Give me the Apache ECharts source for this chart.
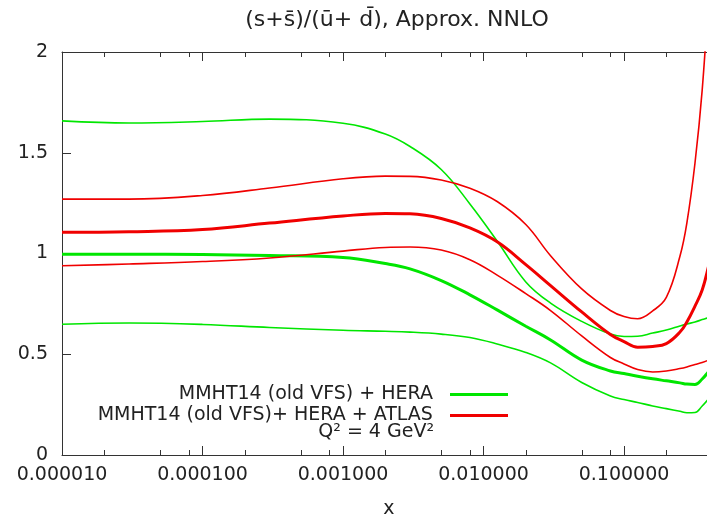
<!DOCTYPE html>
<html>
<head>
<meta charset="utf-8">
<script src="https://cdn.jsdelivr.net/npm/echarts@6/dist/echarts.min.js"></script>
<style>html,body{margin:0;padding:0;background:#fff}#c{width:707px;height:518px}</style>
</head>
<body>
<div id="c"></div>
<script>
// x sample points (log scale)
const xs = [1e-5, 3e-5, 1e-4, 3e-4, 1e-3, 2e-3, 3e-3, 5e-3, 8e-3, 0.0125, 0.02, 0.03, 0.05, 0.08, 0.1, 0.125, 0.16, 0.2, 0.25, 0.28, 0.32, 0.36, 0.4, 0.45];
// MMHT14 (old VFS) + HERA : central, upper, lower
const heraCentral = [0.996, 0.996, 0.995, 0.990, 0.980, 0.950, 0.924, 0.866, 0.795, 0.720, 0.639, 0.571, 0.471, 0.417, 0.404, 0.391, 0.378, 0.368, 0.358, 0.352, 0.350, 0.377, 0.414, 0.452];
const heraUpper   = [1.658, 1.648, 1.655, 1.667, 1.646, 1.593, 1.531, 1.417, 1.246, 1.062, 0.859, 0.754, 0.663, 0.600, 0.588, 0.589, 0.605, 0.620, 0.640, 0.650, 0.660, 0.672, 0.682, 0.695];
const heraLower   = [0.649, 0.655, 0.648, 0.633, 0.619, 0.614, 0.610, 0.600, 0.583, 0.551, 0.509, 0.457, 0.360, 0.293, 0.275, 0.261, 0.243, 0.230, 0.217, 0.210, 0.211, 0.243, 0.278, 0.318];
// MMHT14 (old VFS) + HERA + ATLAS : central, upper, lower
const atlasCentral = [1.105, 1.108, 1.119, 1.151, 1.186, 1.199, 1.197, 1.174, 1.127, 1.058, 0.945, 0.841, 0.710, 0.598, 0.563, 0.535, 0.539, 0.553, 0.610, 0.660, 0.739, 0.819, 0.938, 1.092];
const atlasUpper   = [1.270, 1.270, 1.288, 1.325, 1.371, 1.384, 1.383, 1.365, 1.324, 1.258, 1.144, 0.989, 0.824, 0.717, 0.687, 0.676, 0.715, 0.782, 0.986, 1.151, 1.449, 1.811, 2.283, 2.854];
const atlasLower   = [0.939, 0.948, 0.960, 0.978, 1.012, 1.030, 1.032, 1.017, 0.969, 0.893, 0.801, 0.717, 0.591, 0.484, 0.452, 0.424, 0.412, 0.417, 0.429, 0.437, 0.449, 0.459, 0.471, 0.486];
// minor tick positions on x axis
const minorTicks = [2e-5, 5e-5, 8e-5, 2e-4, 5e-4, 8e-4, 2e-3, 5e-3, 8e-3, 2e-2, 5e-2, 8e-2, 0.2];
const yTicks = [0, 0.5, 1, 1.5, 2];

const nameHera = 'MMHT14 (old VFS) + HERA';
const nameAtlas = 'MMHT14 (old VFS)+ HERA + ATLAS';
const GREEN = '#00e600';
const RED = '#f00000';
const AX = '#333';
const FONT = 'DejaVu Sans';

function pts(arr){ return xs.map((x,i)=>[x, arr[i]]); }
function line(name, arr, color, w, z){
  return {type:'line', name, data: pts(arr), smooth: 0.4, showSymbol:false, symbol:'none',
    lineStyle:{color, width:w}, itemStyle:{color}, color, clip:true, z, silent:true};
}

const chart = echarts.init(document.getElementById('c'));
chart.setOption({
  animation:false,
  backgroundColor:'#fff',
  title:{text:'(s+s\u0304)/(\u016B+ d\u0304), Approx. NNLO', left:392, top:4, textAlign:'center',
    textStyle:{fontFamily:FONT, fontSize:22, fontWeight:'normal', color:'#222'}},
  grid:{left:62, top:52, width:653.8, height:403, outerBoundsMode:'none', containLabel:false},
  legend:[
    {data:[nameHera], right:199, top:385, padding:0, align:'right', orient:'vertical', icon:'rect', itemWidth:58, itemHeight:3,
      formatter: n => n + '  ', textStyle:{fontFamily:FONT, fontSize:19, color:'#222'}, selectedMode:false},
    {data:[nameAtlas], right:199, top:406, padding:0, align:'right', orient:'vertical', icon:'rect', itemWidth:58, itemHeight:3,
      formatter: n => n + '  ', textStyle:{fontFamily:FONT, fontSize:19, color:'#222'}, selectedMode:false}
  ],
  graphic:[{type:'text', right: 707-434, top: 423, style:{text:'Q\u00B2 = 4 GeV\u00B2', fontFamily:FONT, fontSize:19, fill:'#222', textAlign:'right'}}],
  xAxis:[
    {type:'log', logBase:10, min:1e-5, max:0.45, position:'bottom',
      axisLine:{show:true, lineStyle:{color:AX, width:1}},
      axisTick:{show:true, inside:true, length:9, lineStyle:{color:AX}},
      axisLabel:{show:true, margin:11, showMaxLabel:false, fontFamily:FONT, fontSize:19, color:'#222',
        formatter: v => Number(v).toFixed(6)},
      splitLine:{show:false}, minorTick:{show:false},
      name:'x', nameLocation:'middle', nameGap:45, nameTextStyle:{fontFamily:FONT, fontSize:19, color:'#222'}},
    {type:'log', logBase:10, min:1e-5, max:0.45, position:'top',
      axisLine:{show:true, lineStyle:{color:AX, width:1}},
      axisTick:{show:true, inside:true, length:9, lineStyle:{color:AX}},
      axisLabel:{show:false}, splitLine:{show:false}}
  ],
  yAxis:[
    {type:'value', min:0, max:2, interval:0.5, position:'left',
      axisLine:{show:true, lineStyle:{color:AX, width:1}},
      axisTick:{show:true, inside:true, length:9, lineStyle:{color:AX}},
      axisLabel:{show:true, margin:14, fontFamily:FONT, fontSize:19, color:'#222',
        formatter: v => String(v)},
      splitLine:{show:false}}
  ],
  series:[
    {type:'custom', name:'minor', xAxisIndex:0, yAxisIndex:0, silent:true, clip:false, z:10,
      data: minorTicks.map(v=>[v, yTicks[0]]),
      renderItem:(params, api)=>{
        const b = api.coord([api.value(0), yTicks[0]]);
        const t = api.coord([api.value(0), yTicks[yTicks.length-1]]);
        const x = Math.round(b[0]) + 0.5;
        return {type:'group', children:[
          {type:'line', shape:{x1:x, y1:b[1], x2:x, y2:b[1]-5}, style:{stroke:AX, lineWidth:1}},
          {type:'line', shape:{x1:x, y1:t[1], x2:x, y2:t[1]+5}, style:{stroke:AX, lineWidth:1}}
        ]};
      }},
    line(nameHera, heraCentral, GREEN, 3, 3),
    line(nameHera, heraUpper, GREEN, 1.6, 2),
    line(nameHera, heraLower, GREEN, 1.6, 2),
    line(nameAtlas, atlasCentral, RED, 3, 5),
    line(nameAtlas, atlasUpper, RED, 1.6, 4),
    line(nameAtlas, atlasLower, RED, 1.6, 4)
  ]
});
</script>
</body>
</html>
